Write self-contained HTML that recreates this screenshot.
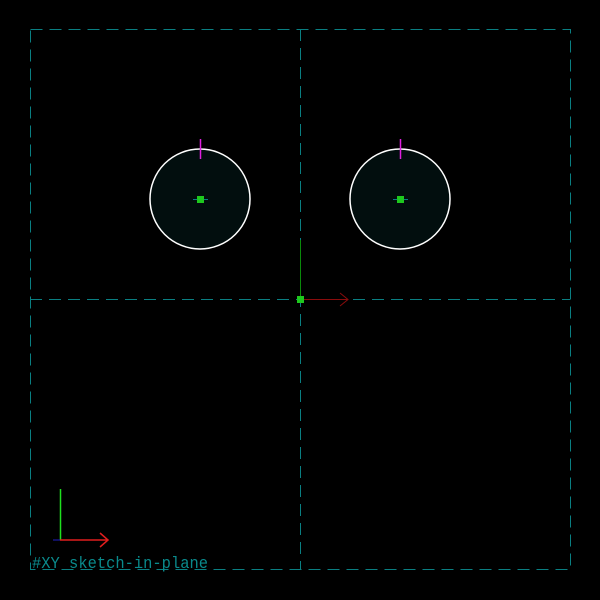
<!DOCTYPE html>
<html><head><style>body{margin:0;background:#000}svg{display:block}</style></head>
<body>
<svg width="600" height="600" viewBox="0 0 600 600">
<rect width="600" height="600" fill="#000"/>
<g stroke="#0a7f82" stroke-width="1" stroke-dasharray="12,7" fill="none">
<rect x="30.5" y="29.5" width="540" height="540"/>
<line x1="30" y1="299.5" x2="570" y2="299.5"/>
<line x1="300.5" y1="29" x2="300.5" y2="570"/>
</g>
<line x1="300.5" y1="240" x2="300.5" y2="299" stroke="#0a8a0a"/>
<path d="M300 299.5H348M340 293L348 299.5L340 306" stroke="#8a0c0c" fill="none"/>
<rect x="297" y="296" width="7" height="7" fill="#1ec81e"/>
<g id="circles"></g>
<line x1="60.5" y1="489" x2="60.5" y2="540" stroke="#1ee01e" stroke-width="1.5"/>
<path d="M60 540H108M100 533L108 540L100 547" stroke="#e01e1e" stroke-width="1.5" fill="none"/>
<line x1="53" y1="540" x2="60" y2="540" stroke="#2020c0"/>
<text x="32" y="568" fill="#0a8a8c" font-family="Liberation Mono, monospace" font-size="17" textLength="176" lengthAdjust="spacingAndGlyphs">#XY  sketch-in-plane</text>
</svg>
<script>
const cx=[200,400];
const cy=[199,199];
const radii=[50,50];
const g=document.getElementById('circles');
const ns='http://www.w3.org/2000/svg';
for(let i=0;i<cx.length;i++){
 const c=document.createElementNS(ns,'circle');
 c.setAttribute('cx',cx[i]);c.setAttribute('cy',cy[i]);c.setAttribute('r',radii[i]);
 c.setAttribute('fill','#020e0e');c.setAttribute('stroke','#fff');c.setAttribute('stroke-width','1.5');
 
 
 g.appendChild(c);
 const t=document.createElementNS(ns,'line');
 t.setAttribute('x1',cx[i]+0.5);t.setAttribute('x2',cx[i]+0.5);t.setAttribute('y1',cy[i]-radii[i]-10);t.setAttribute('y2',cy[i]-radii[i]+10);
 t.setAttribute('stroke','#e020e0');t.setAttribute('stroke-width','1.5');
 
 
 g.appendChild(t);
 const h=document.createElementNS(ns,'line');
 h.setAttribute('x1',cx[i]-7);h.setAttribute('x2',cx[i]+8);h.setAttribute('y1',cy[i]+0.5);h.setAttribute('y2',cy[i]+0.5);
 h.setAttribute('stroke','#0a7f82');
 
 
 g.appendChild(h);
 const p=document.createElementNS(ns,'rect');
 p.setAttribute('x',cx[i]-3);p.setAttribute('y',cy[i]-3);p.setAttribute('width',7);p.setAttribute('height',7);
 p.setAttribute('fill','#1ec81e');
 
 
 g.appendChild(p);
}
</script>
</body></html>
